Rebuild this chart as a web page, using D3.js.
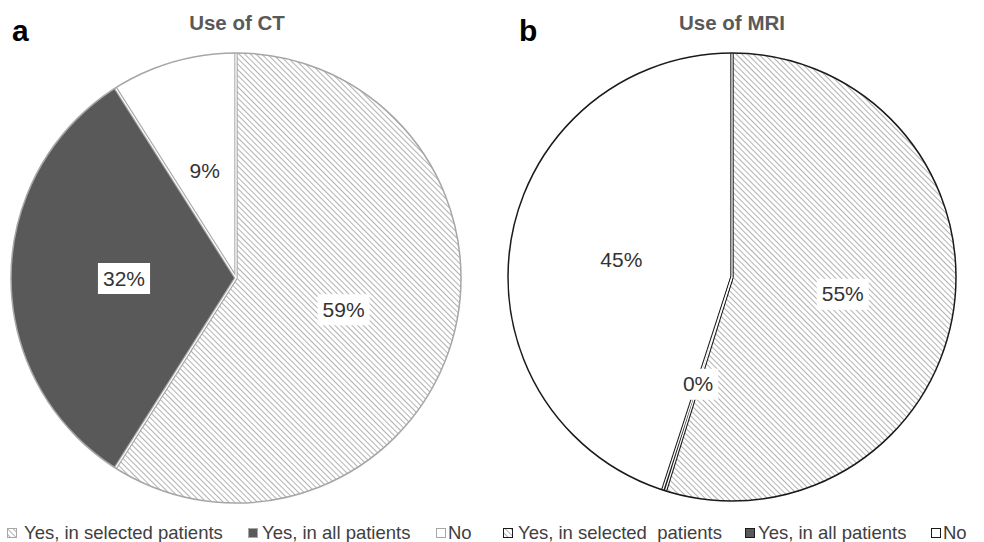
<!DOCTYPE html>
<html lang="en">
<head>
<meta charset="UTF-8">
<title>Use of CT and MRI</title>
<style>
  body { margin: 0; background: #fff; }
  svg { display: block; font-family: "Liberation Sans", Arial, sans-serif; }
</style>
</head>
<body>
<script src="https://d3js.org/d3.v7.min.js"></script>
<script>
// data
const categories = ["Yes, in selected patients", "Yes, in all patients", "No"];
const ctValues = [59, 32, 9];
const mriValues = [54.8, 0.2, 45.0];
const legendLabelsA = ["Yes, in selected patients", "Yes, in all patients", "No"];
const legendLabelsB = ["Yes, in selected\u00a0 patients", "Yes, in all patients", "No"];

const width = 984, height = 542;
const svg = d3.select("body").append("svg")
  .attr("width", width).attr("height", height);

// hatch pattern
const defs = svg.append("defs");
defs.append("pattern")
  .attr("id", "hatch")
  .attr("patternUnits", "userSpaceOnUse")
  .attr("width", 4).attr("height", 4)
  .attr("patternTransform", "rotate(-45)")
  .call(p => p.append("rect").attr("width", 4).attr("height", 4).attr("fill", "#fff"))
  .call(p => p.append("line").attr("x1", 0).attr("y1", 0).attr("x2", 0).attr("y2", 4)
    .attr("stroke", "#999").attr("stroke-width", 1.5));

const fills = ["url(#hatch)", "#595959", "#fff"];

function drawPie(values, opts) {
  const g = svg.append("g").attr("transform", `translate(${opts.cx},${opts.cy})`);
  const r = opts.r;
  const pie = d3.pie().sort(null).value(d => d);
  const arcs = pie(values);
  const arc = d3.arc().innerRadius(0).outerRadius(r);
  const labelArc = d3.arc().innerRadius(112).outerRadius(112);

  g.selectAll("path.slice")
    .data(arcs)
    .join("path")
    .attr("class", "slice")
    .attr("fill", (d, i) => fills[i])
    .attr("d", arc);

  // slice borders: coloured double line with a white gap
  const bounds = arcs.map(d => d.startAngle);
  const end = a => [r * Math.sin(a), -r * Math.cos(a)];
  g.selectAll("line.b1").data(bounds).join("line")
    .attr("x1", 0).attr("y1", 0)
    .attr("x2", a => end(a)[0]).attr("y2", a => end(a)[1])
    .attr("stroke", opts.stroke).attr("stroke-width", 3.4);
  g.selectAll("line.b2").data(bounds).join("line")
    .attr("x1", 0).attr("y1", 0)
    .attr("x2", a => end(a)[0]).attr("y2", a => end(a)[1])
    .attr("stroke", "#fff").attr("stroke-width", 1.3);
  g.append("circle").attr("r", r)
    .attr("fill", "none").attr("stroke", opts.stroke).attr("stroke-width", opts.outerWidth);

  // labels
  const txtW = d => String(Math.round(d.data)).length * 11.7 + 18.7;
  const lab = g.selectAll("g.lab").data(arcs).join("g")
    .attr("class", "lab")
    .attr("transform", d => `translate(${labelArc.centroid(d)})`);
  lab.append("rect")
    .attr("x", d => -txtW(d) / 2 - 5)
    .attr("y", -15).attr("height", 31)
    .attr("width", d => txtW(d) + 10)
    .attr("fill", "#fff");
  lab.append("text")
    .attr("text-anchor", "middle").attr("dy", "0.36em")
    .attr("font-size", 21).attr("fill", "#333")
    .text(d => Math.round(d.data) + "%");

  // title
  svg.append("text")
    .attr("x", opts.titleX).attr("y", 30)
    .attr("text-anchor", "middle").attr("font-size", 20.5).attr("font-weight", "bold")
    .attr("fill", "#595959").text(opts.title);
  svg.append("text")
    .attr("x", opts.letterX).attr("y", 41)
    .attr("font-size", 30).attr("font-weight", "bold").attr("fill", "#000")
    .text(opts.letter);

  // legend
  const lg = svg.append("g").attr("transform", `translate(0,539)`);
  const items = lg.selectAll("g").data(opts.legend).join("g");
  items.append("rect")
    .attr("x", (d, i) => opts.boxX[i] + 0.5).attr("y", -10.5).attr("width", 9).attr("height", 9)
    .attr("fill", (d, i) => fills[i])
    .attr("stroke", opts.stroke).attr("stroke-width", 1);
  items.append("text")
    .attr("x", (d, i) => opts.textX[i]).attr("y", 0)
    .attr("font-size", 18.5).attr("fill", "#404040")
    .text(d => d);
}

drawPie(ctValues, {
  cx: 236, cy: 278, r: 225, stroke: "#a6a6a6", outerWidth: 1.5,
  title: "Use of CT", titleX: 237, letter: "a", letterX: 12,
  legend: legendLabelsA, boxX: [7, 248, 436], textX: [24, 262, 448]
});
drawPie(mriValues, {
  cx: 732, cy: 277, r: 224, stroke: "#1a1a1a", outerWidth: 1.5,
  title: "Use of MRI", titleX: 732, letter: "b", letterX: 519,
  legend: legendLabelsB, boxX: [503, 745, 931], textX: [518, 758, 943]
});
</script>
</body>
</html>
